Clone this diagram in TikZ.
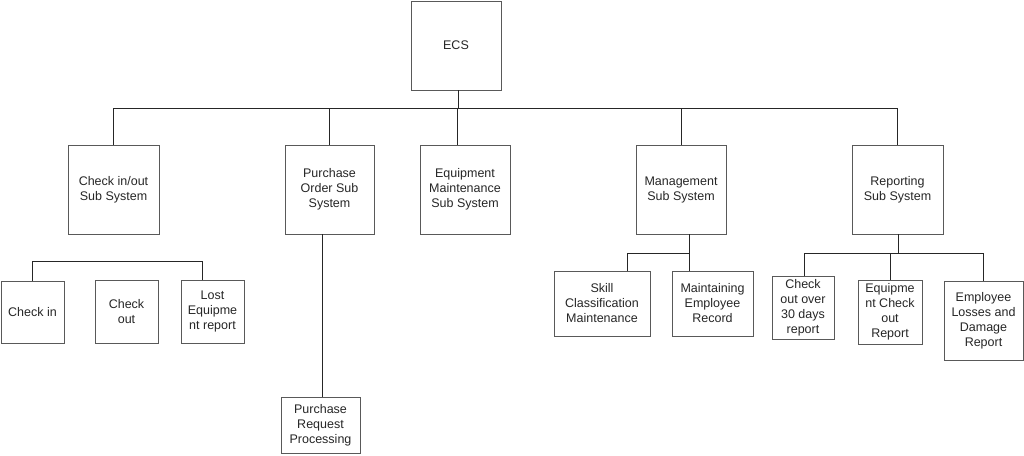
\documentclass[tikz,border=0pt]{standalone}
\usepackage{fontspec}
\setmainfont{Liberation Sans}
\begin{document}
\begin{tikzpicture}[x=1pt,y=-1pt,
  box/.style={draw=black!65, line width=0.9pt, rectangle, inner sep=0pt, align=center,
    font=\fontsize{12.5}{15}\selectfont, text=black!85},
  link/.style={draw=black!85, line width=0.9pt}]
\useasboundingbox (0,0) rectangle (1024,455);
% nodes
\node[box, minimum width=90pt, minimum height=89pt] (ecs) at (456,45.5) {ECS};
\node[box, minimum width=91pt, minimum height=89pt] (checkio) at (113.5,189.5) {Check in/out\\Sub System};
\node[box, minimum width=89pt, minimum height=89pt] (purch) at (329.5,189.5) {Purchase\\Order Sub\\System};
\node[box, minimum width=90pt, minimum height=89pt] (equip) at (465,189.5) {Equipment\\Maintenance\\Sub System};
\node[box, minimum width=90pt, minimum height=89pt] (mgmt) at (681,189.5) {Management\\Sub System};
\node[box, minimum width=91pt, minimum height=89pt] (report) at (897.5,189.5) {Reporting\\Sub System};
\node[box, minimum width=63pt, minimum height=62pt] (checkin) at (32.5,312) {Check in};
\node[box, minimum width=63pt, minimum height=63pt] (checkout) at (126.5,311.5) {Check\\out};
\node[box, minimum width=63pt, minimum height=63pt] (lost) at (212.5,311.5) {Lost\\Equipme\\nt report};
\node[box, minimum width=79pt, minimum height=56pt] (prp) at (320.5,425) {Purchase\\Request\\Processing};
\node[box, minimum width=96pt, minimum height=65pt] (skill) at (602,303.5) {Skill\\Classification\\Maintenance};
\node[box, minimum width=81pt, minimum height=65pt] (maint) at (712.5,303.5) {Maintaining\\Employee\\Record};
\node[box, minimum width=62pt, minimum height=63pt] (co30) at (803,307.5) {Check\\out over\\30 days\\report};
\node[box, minimum width=64pt, minimum height=64pt] (eqco) at (890,312) {Equipme\\nt Check\\out\\Report};
\node[box, minimum width=79pt, minimum height=79pt] (elos) at (983.5,320.5) {Employee\\Losses and\\Damage\\Report};
% junction coordinates
\coordinate (bus) at (458,108);
\coordinate (busL) at (113,108);
\coordinate (busP) at (329,108);
\coordinate (busE) at (457,108);
\coordinate (busM) at (681,108);
\coordinate (busR) at (897,108);
\coordinate (ciL) at (32,261);
\coordinate (ciR) at (202,261);
\coordinate (purchX) at (322,0);
\coordinate (mgL) at (627,253);
\coordinate (mgR) at (689,253);
\coordinate (rpL) at (804,253);
\coordinate (rpS) at (898,253);
\coordinate (rpE) at (890,253);
\coordinate (rpR) at (983,253);
% top level
\draw[link] (ecs.south -| bus) -- (bus);
\draw[link] (busL) -- (busR);
\draw[link] (busL) -- (busL |- checkio.north);
\draw[link] (busP) -- (busP |- purch.north);
\draw[link] (busE) -- (busE |- equip.north);
\draw[link] (busM) -- (busM |- mgmt.north);
\draw[link] (busR) -- (busR |- report.north);
% check in/out group
\draw[link] (ciL |- checkin.north) -- (ciL) -- (ciR) -- (ciR |- lost.north);
% purchase
\draw[link] (purchX |- purch.south) -- (purchX |- prp.north);
% management
\draw[link] (mgL |- skill.north) -- (mgL) -- (mgR);
\draw[link] (mgR |- mgmt.south) -- (mgR |- maint.north);
% reporting
\draw[link] (rpS |- report.south) -- (rpS);
\draw[link] (rpL |- co30.north) -- (rpL) -- (rpR) -- (rpR |- elos.north);
\draw[link] (rpE) -- (rpE |- eqco.north);
\end{tikzpicture}
\end{document}
